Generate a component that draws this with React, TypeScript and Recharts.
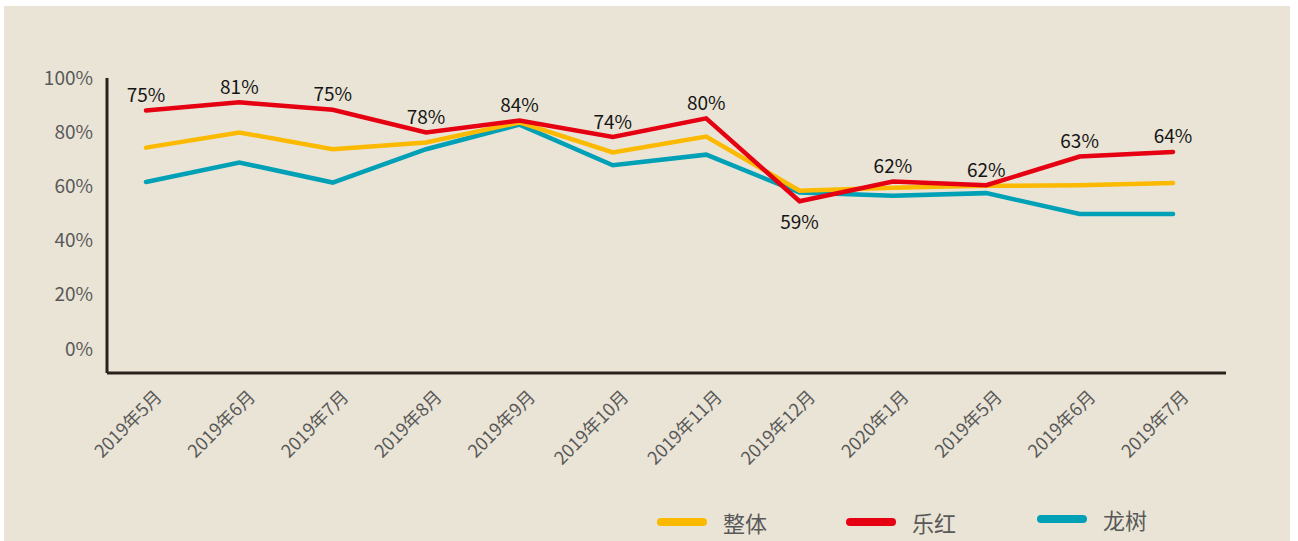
import { LineChart, Line, XAxis, YAxis, LabelList } from "recharts"

const categories = [
  "2019年5月",
  "2019年6月",
  "2019年7月",
  "2019年8月",
  "2019年9月",
  "2019年10月",
  "2019年11月",
  "2019年12月",
  "2020年1月",
  "2019年5月",
  "2019年6月",
  "2019年7月",
]

// values as plotted (percent)
const overall = [74.3, 79.9, 73.7, 76.2, 83.6, 72.5, 78.4, 58.4, 59.5, 60.2, 60.4, 61.2]
const lehong = [88.0, 91.0, 88.3, 79.9, 84.3, 78.2, 85.1, 54.5, 61.8, 60.4, 71.0, 72.7]
const longshu = [61.6, 68.8, 61.4, 73.7, 82.8, 67.8, 71.7, 57.7, 56.5, 57.5, 49.8, 49.8]

// labels shown on the 乐红 line
const lehongLabels = ["75%", "81%", "75%", "78%", "84%", "74%", "80%", "59%", "62%", "62%", "63%", "64%"]
const labelBelow = [7]

const yTicks = [0, 20, 40, 60, 80, 100]

const series = [
  { key: "overall", name: "整体", color: "#fbb900" },
  { key: "lehong", name: "乐红", color: "#e50012" },
  { key: "longshu", name: "龙树", color: "#00a0b6" },
]

const FONT = '"Noto Sans CJK SC", "Noto Sans", sans-serif'
const AXIS = "#2b211d"
const GREY = "#595959"

const data = categories.map((name, i) => ({
  name,
  overall: overall[i],
  lehong: lehong[i],
  longshu: longshu[i],
}))

function XTick(props: any) {
  const { x, y, payload } = props
  const tx = x + 17
  const ty = y + 17
  return (
    <text
      x={tx}
      y={ty}
      textAnchor="end"
      fill={GREY}
      fontSize={18}
      fontFamily={FONT}
      transform={`rotate(-45, ${tx}, ${ty})`}
    >
      {payload.value}
    </text>
  )
}

function RedLabel(props: any) {
  const { x, y, index } = props
  const below = labelBelow.includes(index)
  return (
    <text
      x={x}
      y={below ? y + 19 : y - 17}
      textAnchor="middle"
      dominantBaseline="central"
      fill="#151515"
      fontSize={19}
      fontFamily={FONT}
    >
      {lehongLabels[index]}
    </text>
  )
}

const legendX = [657, 846, 1037]

export default function App() {
  return (
    <div style={{ position: "absolute", left: 0, top: 0, width: 1298, height: 541, background: "#fff" }}>
      <div style={{ position: "absolute", left: 4, top: 6, width: 1286, height: 535, background: "#eae4d6" }} />
      <div style={{ position: "absolute", left: 0, top: 0 }}>
        <LineChart width={1298} height={541} data={data} margin={{ top: 78, right: 72, bottom: 68, left: 0 }}>
          <XAxis
            dataKey="name"
            padding={{ left: 39, right: 53 }}
            axisLine={{ stroke: AXIS, strokeWidth: 3 }}
            tickLine={false}
            tick={<XTick />}
            interval={0}
            height={100}
          />
          <YAxis
            domain={[-8.9, 100]}
            ticks={yTicks}
            tickFormatter={(v: number) => `${v}%`}
            axisLine={{ stroke: AXIS, strokeWidth: 3 }}
            tickLine={false}
            tickMargin={8}
            width={107}
            tick={{ fill: GREY, fontSize: 19, fontFamily: FONT }}
          />
          <Line
            dataKey="longshu"
            stroke="#00a0b6"
            strokeWidth={4.5}
            dot={false}
            strokeLinecap="round"
            isAnimationActive={false}
          />
          <Line
            dataKey="overall"
            stroke="#fbb900"
            strokeWidth={4.5}
            dot={false}
            strokeLinecap="round"
            isAnimationActive={false}
          />
          <Line
            dataKey="lehong"
            stroke="#e50012"
            strokeWidth={4.5}
            dot={false}
            strokeLinecap="round"
            isAnimationActive={false}
          >
            <LabelList dataKey="lehong" content={<RedLabel />} />
          </Line>
        </LineChart>
      </div>
      {series.map((s, i) => (
        <div
          key={s.key}
          style={{
            position: "absolute",
            left: legendX[i],
            top: i === 2 ? 503 : 506,
            display: "flex",
            alignItems: "center",
            fontFamily: FONT,
            fontSize: 22,
            color: GREY,
          }}
        >
          <span
            style={{ display: "inline-block", width: 50, height: 8, borderRadius: 4, background: s.color, marginRight: 16 }}
          />
          {s.name}
        </div>
      ))}
    </div>
  )
}
